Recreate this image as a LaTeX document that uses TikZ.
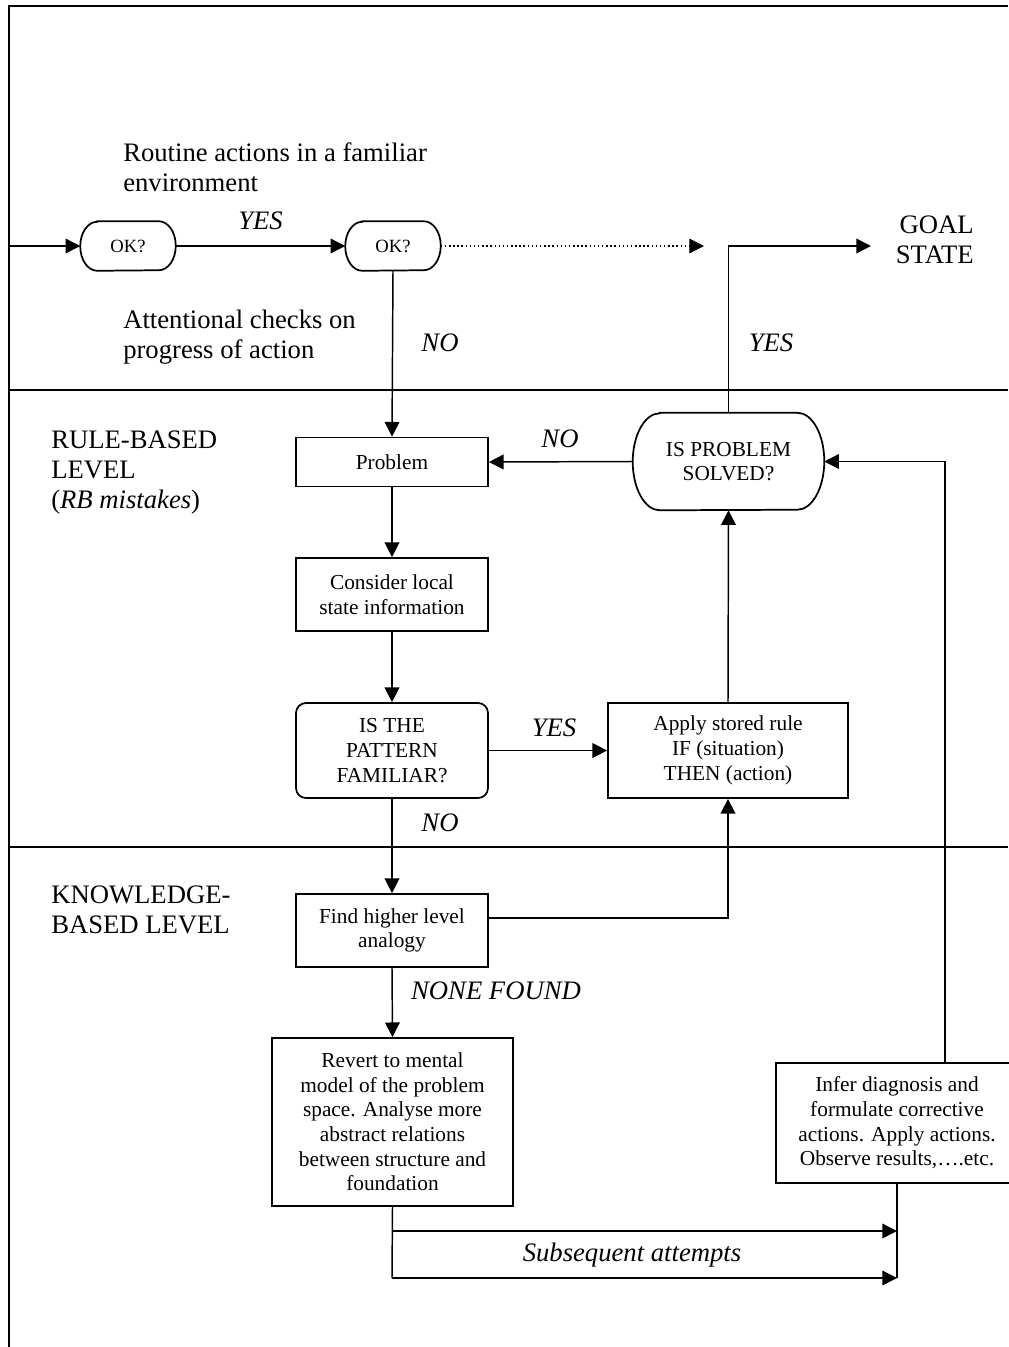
\documentclass[tikz,border=0pt]{standalone}
\usepackage{fontspec}
\setmainfont{Liberation Serif}
\usetikzlibrary{arrows.meta,calc}

% outline of a flowchart terminal: flat top and bottom, half-ellipse ends
\newcommand\drawterminal[3]{%
  \draw[boxline] ($(#1.north west)+(#2,0)$) -- ($(#1.north east)-(#2,0)$)
    arc[start angle=90,end angle=-90,x radius=#2,y radius=#3]
    -- ($(#1.south west)+(#2,0)$)
    arc[start angle=270,end angle=90,x radius=#2,y radius=#3] -- cycle;}

\begin{document}
\begin{tikzpicture}[x=0.75pt,y=0.75pt,
  line/.style={line width=1.1pt},
  arr/.style={line,-{Triangle[length=11pt,width=11pt]}},
  boxline/.style={line width=1.3pt},
  frameline/.style={line width=1.5pt},
  boxtext/.style={font=\fontsize{16}{18.5}\selectfont,align=center,inner sep=0pt},
  stepbox/.style={boxtext,draw,boxline},
  terminal/.style={boxtext,draw=none},
  bigtext/.style={font=\fontsize{20}{22.5}\selectfont,inner sep=0pt},
  lab/.style={font=\fontsize{20}{24}\selectfont\itshape,inner sep=0pt}
]
\useasboundingbox (0,0) rectangle (1008,-1347);

% frame and level dividers
\draw[frameline] (1008,-6) -- (9,-6) -- (9,-1347);
\draw[boxline] (9,-390) -- (1008,-390);
\draw[boxline] (9,-847) -- (1008,-847);

% level captions (base anchor = baseline of the last line)
\node[bigtext,anchor=base west,align=left] (routine) at (123,-191)
  {Routine actions in a familiar\\environment};
\node[bigtext,anchor=base west,align=left] (attn) at (123,-358)
  {Attentional checks on\\progress of action};
\node[bigtext,anchor=base west,align=left] (rb) at (51,-508)
  {RULE-BASED\\LEVEL\\(\textit{RB mistakes})};
\node[bigtext,anchor=base west,align=left] (kb) at (51,-933)
  {KNOWLEDGE-\\BASED LEVEL};
\node[bigtext,anchor=base east,align=right] (goal) at (974,-263)
  {GOAL\\STATE};

% skill-based checks
\node[terminal,font=\fontsize{14}{16}\selectfont,minimum width=71.25pt,minimum height=36.75pt]
  (ok1) at (128,-246) {OK?};
\node[terminal,font=\fontsize{14}{16}\selectfont,minimum width=71.25pt,minimum height=36.75pt]
  (ok2) at (393,-246) {OK?};
\drawterminal{ok1}{12.75pt}{18.375pt}
\drawterminal{ok2}{12.75pt}{18.375pt}

% rule-based level
\node[stepbox,minimum width=144pt,minimum height=36.75pt] (problem) at (392,-462) {Problem};
\node[stepbox,minimum width=144pt,minimum height=54.75pt] (consider) at (392,-594.5)
  {Consider local\\state information};
\node[stepbox,rounded corners=7.5pt,minimum width=144pt,minimum height=71.25pt]
  (pattern) at (392,-750.5) {IS THE\\PATTERN\\FAMILIAR?};
\node[terminal,minimum width=143.25pt,minimum height=72.75pt] (solved) at (728.5,-461.5)
  {IS PROBLEM\\SOLVED?};
\drawterminal{solved}{20.25pt}{36.375pt}
\node[stepbox,minimum width=180pt,minimum height=71.25pt] (apply) at (728,-750.5)
  {Apply stored rule\\IF (situation)\\THEN (action)};

% knowledge-based level
\node[stepbox,minimum width=144pt,minimum height=54.75pt] (find) at (392,-930.5)
  {Find higher level\\analogy};
\node[stepbox,minimum width=180.75pt,minimum height=126pt] (revert) at (392.5,-1122)
  {Revert to mental\\model of the problem\\space. Analyse more\\abstract relations\\between structure and\\foundation};
\node[stepbox,minimum width=181.5pt,minimum height=90pt] (infer) at (897,-1123)
  {Infer diagnosis and\\formulate corrective\\actions. Apply actions.\\Observe results,\dots.etc.};

% free ends
\coordinate (entry) at (9,-246);
\coordinate (dotend) at (704,-246);
\coordinate (goaltip) at (871,-246);
\coordinate (bend1) at (392,-1231);
\coordinate (bend2) at (392,-1278);
\coordinate (hit1) at (897,-1231);
\coordinate (hit2) at (897,-1278);

% connectors
\draw[arr] (entry) -- (ok1.west);
\draw[arr] (ok1.east) -- node[lab,above=12pt] (yes1) {YES} (ok2.west);
\draw[arr,dotted,line width=0.9pt] (ok2.east) -- (dotend);
\draw[arr] (solved.north) |- (goaltip);
\draw[arr] (ok2.south) -- (problem.north);
\draw[arr] (solved.west) -- (problem.east);
\draw[arr] (problem.south) -- (consider.north);
\draw[arr] (consider.south) -- (pattern.north);
\draw[arr] (pattern.east) -- (apply.west);
\draw[arr] (apply.north) -- (solved.south);
\draw[arr] (pattern.south) -- (find.north);
\draw[arr] ([yshift=9.4pt]find.east) -| (apply.south);
\draw[arr] (find.south) -- (revert.north);
\draw[arr] ([xshift=36pt]infer.north) |- (solved.east);
\draw[line] (revert.south) -- (bend2);
\draw[arr] (bend1) -- (hit1);
\draw[arr] (bend2) -- (hit2);
\draw[line] (infer.south) -- (hit2);

% branch labels
\node[lab] (no1) at (440,-343) {NO};
\node[lab] (yes2) at (771,-343) {YES};
\node[lab] (no2) at (560,-439) {NO};
\node[lab] (yes3) at (554,-728) {YES};
\node[lab] (no3) at (440,-823) {NO};
\node[lab] (none) at (496,-991) {NONE FOUND};
\node[lab] (subs) at (632,-1255) {Subsequent attempts};
\end{tikzpicture}
\end{document}
